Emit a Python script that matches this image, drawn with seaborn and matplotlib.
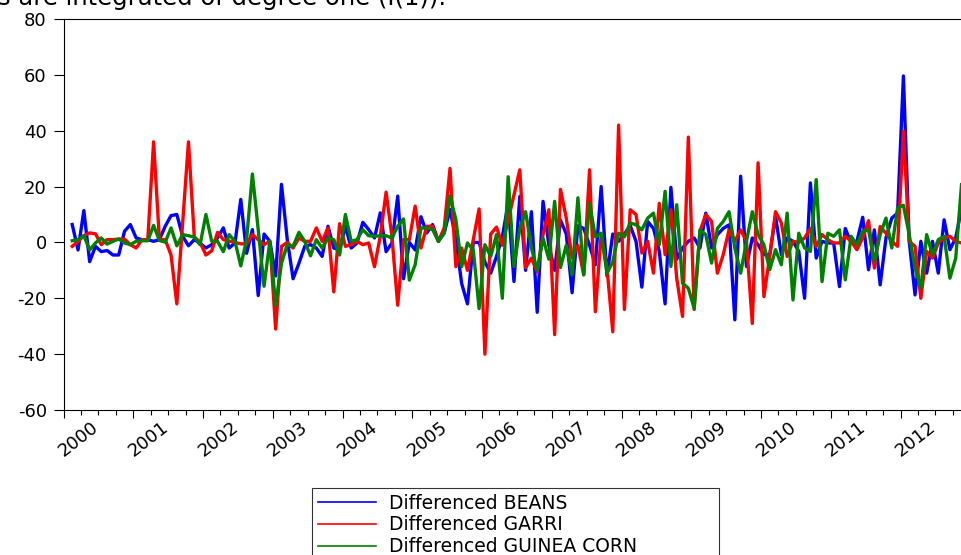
import numpy as np
import pandas as pd
import seaborn as sns
import matplotlib.pyplot as plt
from matplotlib.lines import Line2D
from matplotlib.ticker import MultipleLocator
from matplotlib.transforms import ScaledTranslation

# monthly first differences, Feb 2000 .. Nov 2012
beans = [
    6.4, -2.7, 11.4, -6.9, -1.4, -3.3, -2.9, -4.5, -4.5, 4.0, 6.4, 1.6,
    1.0, 1.0, 0.4, 1.0, 5.8, 9.6, 10.0, 2.2, -1.2, 1.0, -0.3, -2.0,
    -0.8, 1.6, 5.2, -2.0, -0.2, 15.4, -3.9, 4.6, -19.0, 3.0, 0.4, -12.0,
    20.8, 1.0, -13.0, -7.5, -1.4, -0.8, -2.0, -5.0, 5.8, -2.0, -2.7, 5.8,
    -2.0, -0.2, 7.2, 4.6, 1.6, 10.6, -3.3, -0.2, 16.6, -13.0, 0.0, -2.7,
    9.2, 3.4, 6.4, 0.4, 3.4, 11.8, 1.0, -14.7, -22.0, 0.0, 0.0, -7.0,
    -11.0, -5.0, 2.0, 14.0, -14.0, 16.5, -10.0, 11.0, -25.0, 14.7, -1.0, -10.0,
    8.0, 3.0, -18.0, 6.0, 5.0, -1.0, -8.0, 20.0, -12.0, 3.0, 0.4, 3.0,
    6.0, 0.4, -16.0, 7.5, 5.0, -3.2, -22.0, 19.7, -6.0, -2.0, 0.4, 1.6,
    -2.0, 10.5, -2.0, 2.8, 5.0, 6.3, -27.7, 23.7, -8.6, 1.6, -0.8, -4.4,
    -4.4, 9.3, -4.4, 1.6, 0.4, -3.2, -20.0, 21.3, -5.6, 0.4, -0.2, -0.2,
    -15.8, 5.0, -0.2, 0.4, 9.0, -9.8, 4.5, -15.2, 1.6, 8.7, 10.5, 59.6,
    0.4, -18.8, 0.4, -11.0, 0.4, -11.0, 8.1, -2.6, 1.6, 12.3,
]
garri = [
    -1.4, 0.4, 2.4, 3.4, 3.1, -0.8, 1.0, 1.0, 1.2, 1.2, -0.8, -2.0,
    1.0, 1.0, 36.0, 1.0, 1.0, -4.5, -22.0, 7.0, 36.0, 2.0, 0.0, -4.5,
    -3.0, 3.6, 1.0, 0.5, 0.0, -0.5, -0.5, 2.8, 1.0, -0.8, 0.4, -31.0,
    -1.4, 0.0, -2.0, 1.6, 0.4, 0.4, 5.2, 0.4, 5.2, -17.7, 6.7, -1.4,
    -0.8, 0.4, -0.8, -0.2, -8.7, 2.2, 18.0, 2.2, -22.5, 1.0, 1.0, 13.0,
    -2.0, 5.8, 5.8, 0.4, 5.2, 26.5, -8.7, -2.0, -10.0, 1.0, 12.0, -40.0,
    3.0, 5.5, -1.0, 8.0, 17.0, 26.0, -9.0, -5.6, -10.5, 2.8, 11.7, -33.0,
    19.0, 8.7, -5.6, -1.0, -11.6, 26.0, -24.8, 2.8, -9.0, -32.0, 42.0, -24.0,
    11.7, 10.0, -3.8, 0.4, -11.0, 14.0, -4.4, 11.7, -12.8, -26.5, 37.7, -24.0,
    4.0, 10.0, 7.5, -11.0, -4.4, 4.5, 0.4, 4.5, 0.4, -29.0, 28.5, -19.4,
    -5.0, 11.0, 7.0, -5.0, 0.4, 0.0, 1.6, 5.0, -1.4, 2.8, 1.0, -0.2,
    -0.2, 2.2, 0.4, -2.6, 1.6, 7.8, -9.2, 5.7, 3.3, 0.4, -1.4, 39.8,
    0.4, -1.4, -20.0, -3.2, -5.6, -0.2, 1.6, 2.2, 0.4, -0.2,
]
guinea_corn = [
    0.6, 1.0, 2.4, -2.7, -0.2, 1.6, -0.6, 0.4, 1.2, -0.2, -0.8, 0.4,
    0.6, 0.6, 6.1, 0.7, 0.1, 5.2, -1.2, 2.8, 2.4, 1.9, -0.8, 10.0,
    0.4, 0.4, -3.3, 2.8, 0.4, -8.4, 1.0, 24.5, 4.6, -15.7, 0.4, -22.5,
    -7.5, -0.8, -1.4, 3.6, 0.4, -4.8, 1.0, -2.0, 1.6, 1.0, -4.5, 10.0,
    0.4, 1.0, 4.6, 2.4, 2.2, 2.4, 2.4, 1.6, 5.8, 8.4, -13.5, -8.0,
    5.2, 5.2, 4.6, 0.4, 3.4, 16.6, 8.2, -8.7, -0.2, -2.7, -23.7, -0.8,
    -5.0, 2.8, -20.0, 23.5, -8.6, 5.0, 11.0, -2.0, -10.0, 1.5, -6.0, 14.7,
    -9.0, -1.0, -11.6, 16.0, -11.6, 14.0, 2.0, 3.3, -11.0, -7.0, 3.3, 2.0,
    7.0, 6.3, 4.5, 8.7, 10.5, -0.8, 18.3, -8.6, 13.5, -14.6, -16.4, -23.6,
    4.5, 2.8, -7.4, 5.0, 7.5, 11.0, -2.0, -11.0, 0.4, 11.0, 2.8, -0.8,
    -9.8, -2.6, -8.0, 10.5, -20.6, 3.3, -2.0, -3.2, 22.5, -14.0, 3.3, 2.2,
    4.5, -13.4, 2.2, -0.8, 4.0, 4.5, -6.8, 2.8, 8.7, -2.0, 12.3, 13.3,
    2.8, -9.2, -16.4, 2.8, -4.4, 1.0, 2.2, -12.8, -5.6, 20.7,
]
labels = ['Differenced BEANS', 'Differenced GARRI', 'Differenced GUINEA CORN']
colors = ['#0000ff', '#ff0000', '#008000']
years = list(range(2000, 2013))
yticks = [-60, -40, -20, 0, 20, 40, 60, 80]

plt.rcParams['font.family'] = ['DejaVu Sans']
plt.rcParams['axes.unicode_minus'] = False

# decimal-year position of each month (plotted mid-month)
months = pd.date_range('2000-02-01', periods=len(beans), freq='MS')
t = months.year + (months.month - 0.5) / 12.0

df = pd.DataFrame({'t': t, labels[0]: beans, labels[1]: garri,
                   labels[2]: guinea_corn})
df = df.melt(id_vars='t', var_name='series', value_name='value')

fig = plt.figure(figsize=(9.61, 5.55), dpi=100)
ax = fig.add_axes([63.5 / 961, 145 / 555, 899.5 / 961, 391 / 555])

sns.lineplot(data=df, x='t', y='value', hue='series', hue_order=labels,
             palette=dict(zip(labels, colors)), linewidth=2.4,
             estimator=None, sort=False, legend=False, ax=ax)

ax.set_xlim(2000, 2000 + 899.5 / 69.75)
ax.set_ylim(-60, 80)
ax.set_xlabel('')
ax.set_ylabel('')
ax.set_yticks(yticks)
ax.set_xticks(years)
ax.xaxis.set_minor_locator(MultipleLocator(0.25))
ax.set_xticklabels([str(y) for y in years], rotation=38, ha='center', fontsize=13)
ax.tick_params(axis='y', labelsize=13, length=7, width=0.8, pad=5)
ax.tick_params(axis='x', which='major', length=6, width=0.8, pad=0)
ax.tick_params(axis='x', which='minor', length=3.5, width=0.8)
for lab in ax.get_xticklabels():
    lab.set_transform(lab.get_transform() + ScaledTranslation(0.15, 0, fig.dpi_scale_trans))
for side in ['left', 'bottom', 'top', 'right']:
    ax.spines[side].set_linewidth(0.8)
    ax.spines[side].set_color('black')

# caption line above the chart, cut by the top edge as in the source image
fig.text(-0.002, 1 - 5 / 555, 's are integrated of degree one (I(1)).',
         fontsize=17.5, ha='left', va='baseline')

handles = [Line2D([], [], color=c, linewidth=1.2) for c in colors]
leg = fig.legend(handles, labels, loc='upper left', mode='expand',
                 bbox_to_anchor=(312 / 961, 67 / 555, 407 / 961, 0),
                 borderaxespad=0, fontsize=13.5, frameon=True, fancybox=False,
                 edgecolor='black', handlelength=3.1, handletextpad=0.7,
                 labelspacing=0.15, borderpad=0.3)
leg.get_frame().set_linewidth(0.8)

fig.savefig('out.png', dpi=100)
